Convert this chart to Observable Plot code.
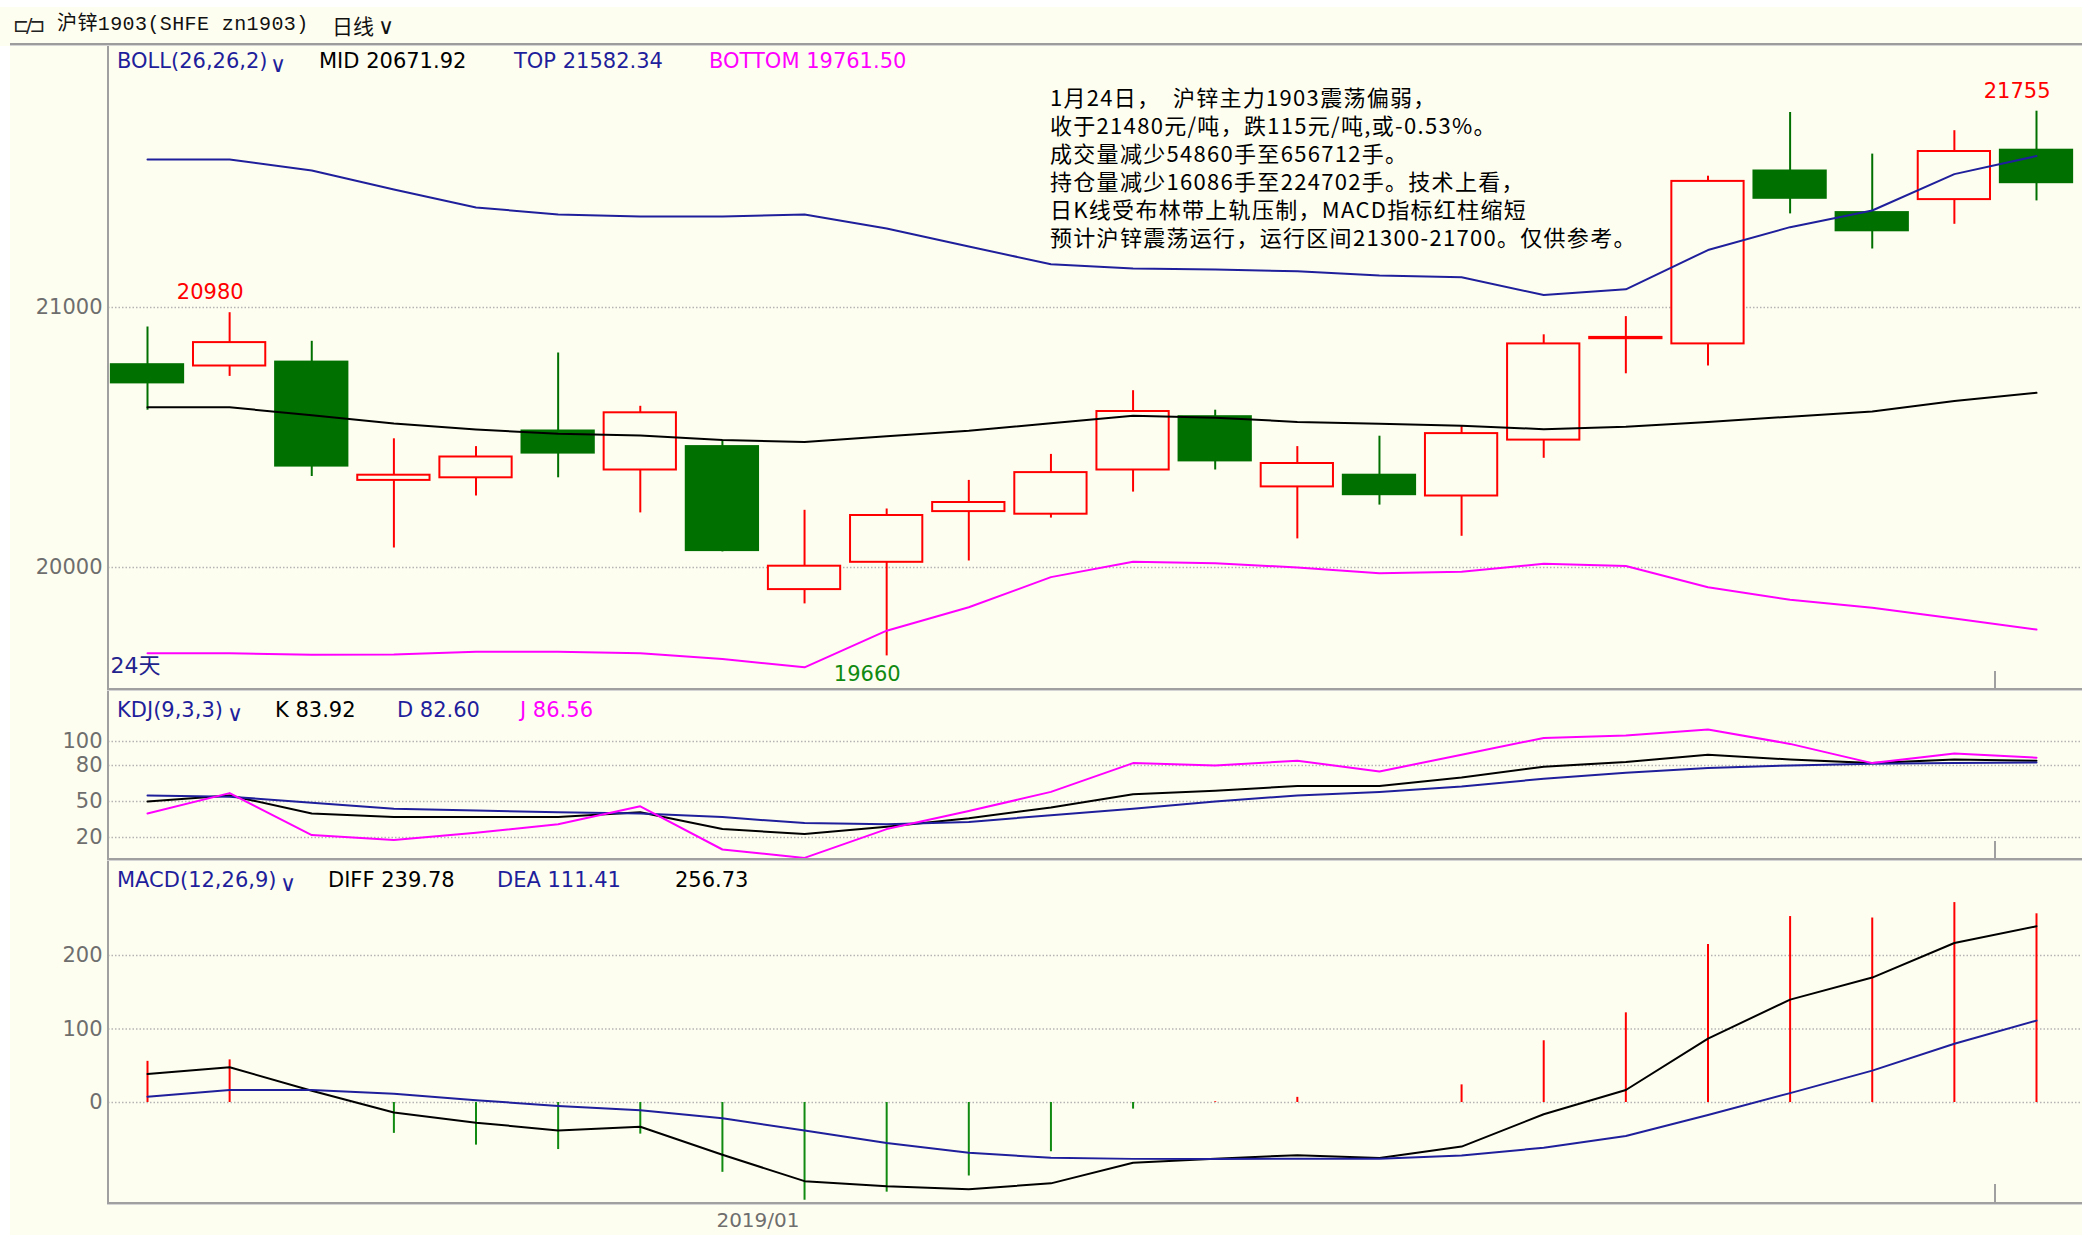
<!DOCTYPE html>
<html>
<head>
<meta charset="utf-8">
<script src="https://cdn.jsdelivr.net/npm/d3@7"></script>
<script src="https://cdn.jsdelivr.net/npm/@observablehq/plot@0.6"></script>
<style>
  body { margin: 0; background: #ffffff; }
  #wrap { position: relative; width: 2082px; height: 1235px; background: #fefef0; overflow: hidden; }
  .abs { position: absolute; white-space: pre; line-height: 1; }
  .hl { position: absolute; background: #a4a4a4; }
  .panel { position: absolute; left: 0; }
</style>
</head>
<body>
<div id="wrap"></div>
<script>
// ---------------- DATA ----------------
const dates = ["2018-12-20","2018-12-21","2018-12-24","2018-12-25","2018-12-26","2018-12-27","2018-12-28",
  "2019-01-02","2019-01-03","2019-01-04","2019-01-07","2019-01-08","2019-01-09","2019-01-10","2019-01-11",
  "2019-01-14","2019-01-15","2019-01-16","2019-01-17","2019-01-18","2019-01-21","2019-01-22","2019-01-23","2019-01-24"];
const openP  = [20780,20775,20790,20335,20345,20525,20375,20465,19915,20020,20215,20205,20375,20580,20310,20355,20275,20490,20880,20860,21525,21365,21415,21605];
const highP  = [20925,20980,20870,20495,20465,20825,20620,20485,20220,20225,20335,20435,20680,20605,20465,20505,20545,20895,20965,21505,21750,21590,21680,21755];
const lowP   = [20605,20735,20350,20075,20275,20345,20210,20060,19860,19660,20025,20190,20290,20375,20110,20240,20120,20420,20745,20775,21360,21225,21320,21410];
const closeP = [20710,20865,20390,20355,20425,20440,20595,20065,20005,20200,20250,20365,20600,20410,20400,20280,20515,20860,20885,21485,21420,21295,21600,21480];

const bollTop = [21569,21569,21527,21454,21385,21358,21350,21350,21358,21304,21235,21166,21150,21146,21139,21123,21116,21048,21070,21221,21309,21373,21513,21582.34];
const bollMid = [20616,20616,20586,20554,20531,20514,20508,20490,20483,20505,20526,20555,20584,20576,20560,20553,20545,20532,20541,20560,20580,20600,20640,20671.92];
const bollBot = [19670,19670,19664,19665,19676,19676,19670,19648,19616,19757,19847,19963,20022,20016,20000,19978,19984,20014,20006,19924,19876,19845,19804,19761.50];

const kdjK = [50,55,40,37,37,37,41,27,23,29,36,45,56,59,63,63,70,79,83,89,85,82,85,83.92];
const kdjD = [55,54,49,44,42.5,41,40,37,32,31,33,38.5,44,50,55,58,62.5,69,74,78,80,81.5,82,82.60];
const kdjJ = [40,57,22,18,24,31,46,10,3,27,42,58,82,80,84,75,89,103,105,110,98,82,90,86.56];

const macdDiff = [38.8,48,16,-13.7,-27.4,-38,-33,-71,-107,-114,-118,-110,-82,-76.5,-71.7,-75.5,-60,-16,17,87,140,170,217,239.78];
const macdDea  = [7.8,17,17,12,3,-4.6,-10.5,-21.5,-38,-55,-68.5,-75.3,-76.7,-76.7,-76.5,-76.5,-72,-61.6,-45.7,-17,12.8,43.4,80,111.41];
const macdHist = [56,58,0,-42,-58,-64,-43,-95,-133,-122,-100,-67,-9,1,7,0,24,84,122,215,253,251,272,256.73];

const mainTicks = [20000, 21000];
const kdjTicks = [20, 50, 80, 100];
const macdTicks = [0, 100, 200];

// labelled extremes: candle index and which price
const extremeLabels = [{i: 1, kind: "high"}, {i: 9, kind: "low"}, {i: 23, kind: "high"}];
const cursorIdx = [22.5];

const titleText = "沪锌1903(SHFE zn1903)";
const periodText = "日线";
const noteLines = [
  "1月24日，  沪锌主力1903震荡偏弱，",
  "收于21480元/吨，跌115元/吨,或-0.53%。",
  "成交量减少54860手至656712手。",
  "持仓量减少16086手至224702手。技术上看，",
  "日K线受布林带上轨压制，MACD指标红柱缩短",
  "预计沪锌震荡运行，运行区间21300-21700。仅供参考。"
];

// ---------------- STYLE ----------------
const BG = "#fefef0", RED = "#ff0000", GREEN = "#007000", HGREEN = "#108a10", BLUE = "#1f1f9c", MAG = "#ff00ff", BLACK = "#000000", GRAY = "#6e6e6e";
const FONT = "DejaVu Sans, Noto Sans CJK SC, sans-serif";

const N = dates.length;
const candles = dates.map((date, i) => ({
  i, date, open: openP[i], high: highP[i], low: lowP[i], close: closeP[i],
  top: bollTop[i], mid: bollMid[i], bot: bollBot[i],
  k: kdjK[i], d: kdjD[i], j: kdjJ[i],
  diff: macdDiff[i], dea: macdDea[i], hist: macdHist[i]
}));
const isUp = d => d.close >= d.open;
const wrap = document.getElementById("wrap");

const X = {domain: [0, N - 1], range: [147, 2036]};
const gridOpts = {stroke: "#b4b4b4", strokeOpacity: 1, strokeWidth: 1.5, strokeDasharray: "1.5,2"};
const axisOpts = {tickSize: 0, tickPadding: 6, fontSize: 21, fill: GRAY, label: null, tickFormat: d => String(d), fontFamily: FONT};
const plotStyle = {background: "transparent", overflow: "visible", fontFamily: FONT};

function placePanel(svg, top) {
  const div = document.createElement("div");
  div.className = "panel";
  div.style.top = top + "px";
  div.appendChild(svg);
  wrap.appendChild(div);
}
function addText(str, left, cy, size, color, family, extra) {
  const s = document.createElement("div");
  s.className = "abs";
  s.textContent = str;
  s.style.left = left + "px";
  s.style.top = (cy - size * 0.5) + "px";
  s.style.fontSize = size + "px";
  s.style.color = color;
  s.style.fontFamily = family || FONT;
  if (extra) Object.assign(s.style, extra);
  wrap.appendChild(s);
  return s;
}
function hline(left, top, width, height, color) {
  const d = document.createElement("div");
  d.className = "hl";
  Object.assign(d.style, {left: left + "px", top: top + "px", width: width + "px", height: height + "px"});
  if (color) d.style.background = color;
  wrap.appendChild(d);
}

// white outer strips
hline(0, 0, 2082, 7, "#ffffff");
hline(0, 46, 10, 1189, "#ffffff");

// ---------------- MAIN PANEL ----------------
const main = Plot.plot({
  width: 2082, height: 646, marginLeft: 108, marginRight: 0, marginTop: 0, marginBottom: 0,
  style: plotStyle,
  x: {...X, axis: null},
  y: {domain: [20000, 21000], range: [523, 263]},
  color: {type: "identity"},
  marks: [
    Plot.gridY(mainTicks, gridOpts),
    Plot.axisY(mainTicks, axisOpts),
    Plot.ruleX(candles, {x: "i", y1: d => Math.max(d.open, d.close), y2: "high", stroke: d => isUp(d) ? RED : GREEN, strokeWidth: 2}),
    Plot.ruleX(candles, {x: "i", y1: "low", y2: d => Math.min(d.open, d.close), stroke: d => isUp(d) ? RED : GREEN, strokeWidth: 2}),
    Plot.rect(candles, {x1: d => d.i - 0.44, x2: d => d.i + 0.44, y1: "open", y2: "close",
      fill: d => isUp(d) ? BG : GREEN, stroke: d => isUp(d) ? RED : GREEN, strokeWidth: 2}),
    Plot.line(candles, {x: "i", y: "top", stroke: BLUE, strokeWidth: 2}),
    Plot.line(candles, {x: "i", y: "mid", stroke: BLACK, strokeWidth: 2}),
    Plot.line(candles, {x: "i", y: "bot", stroke: MAG, strokeWidth: 2}),
    Plot.text(extremeLabels.filter(e => e.kind === "high"), {
      x: "i", y: e => candles[e.i].high, text: e => String(candles[e.i].high),
      textAnchor: "end", dx: 14, dy: -20, fill: RED, fontSize: 21, fontFamily: FONT}),
    Plot.text(extremeLabels.filter(e => e.kind === "low"), {
      x: "i", y: e => candles[e.i].low, text: e => String(candles[e.i].low),
      textAnchor: "end", dx: 14, dy: 18, fill: HGREEN, fontSize: 21, fontFamily: FONT}),
    Plot.text([`${N}天`], {frameAnchor: "bottom-left", textAnchor: "start", dx: 2, dy: -18,
      fill: "#23238e", fontSize: 22, fontFamily: FONT})
  ]
});
placePanel(main, 44);

// ---------------- KDJ PANEL ----------------
const kdj = Plot.plot({
  width: 2082, height: 170, marginLeft: 108, marginRight: 0, marginTop: 0, marginBottom: 0,
  style: plotStyle,
  x: {...X, axis: null},
  y: {domain: [20, 100], range: [147, 51]},
  marks: [
    Plot.gridY(kdjTicks, gridOpts),
    Plot.axisY(kdjTicks, axisOpts),
    Plot.line(candles, {x: "i", y: "k", stroke: BLACK, strokeWidth: 2}),
    Plot.line(candles, {x: "i", y: "d", stroke: BLUE, strokeWidth: 2}),
    Plot.line(candles, {x: "i", y: "j", stroke: MAG, strokeWidth: 2})
  ]
});
placePanel(kdj, 690);

// ---------------- MACD PANEL ----------------
const firstJan = dates.findIndex(d => d.startsWith("2019-01"));
const macd = Plot.plot({
  width: 2082, height: 375, marginLeft: 108, marginRight: 0, marginTop: 0, marginBottom: 32,
  style: plotStyle,
  x: X,
  y: {domain: [0, 200], range: [242, 95]},
  color: {type: "identity"},
  marks: [
    Plot.gridY(macdTicks, gridOpts),
    Plot.axisY(macdTicks, axisOpts),
    Plot.axisX([firstJan], {tickSize: 0, tickPadding: 9, fontSize: 20, fill: GRAY, label: null,
      textAnchor: "start", dx: -6, fontFamily: FONT,
      tickFormat: i => dates[i].slice(0, 7).replace("-", "/")}),
    Plot.ruleX(candles, {x: "i", y1: 0, y2: "hist", stroke: d => d.hist >= 0 ? RED : HGREEN, strokeWidth: 2}),
    Plot.line(candles, {x: "i", y: "diff", stroke: BLACK, strokeWidth: 2}),
    Plot.line(candles, {x: "i", y: "dea", stroke: BLUE, strokeWidth: 2})
  ]
});
placePanel(macd, 860);

// ---------------- FRAME LINES ----------------
hline(10, 43, 2072, 2, "#9c9c9c");
hline(10, 45, 2072, 1, "#d4d4d4");
hline(107, 46, 2, 1158, "#a0a0a0");
hline(107, 688, 1975, 2, "#a0a0a0");
hline(107, 690, 1975, 1, "#d4d4d4");
hline(107, 858, 1975, 2, "#a0a0a0");
hline(107, 860, 1975, 1, "#d4d4d4");
hline(107, 1202, 1975, 2, "#a0a0a0");
hline(107, 1204, 1975, 1, "#d4d4d4");
const xs = main.scale("x");
for (const c of cursorIdx) {
  const px = Math.round(xs.apply(c)) - 1;
  hline(px, 671, 2, 18, "#a0a0a0");
  hline(px, 841, 2, 18, "#a0a0a0");
  hline(px, 1184, 2, 18, "#a0a0a0");
}

// ---------------- TEXT ----------------
// title bar
addText("⊏/⊐", 13, 25, 19, "#222", "DejaVu Sans", {letterSpacing: "-3px"});
addText(titleText, 57, 25, 20, "#111", "Liberation Mono, Noto Sans CJK SC, monospace", {letterSpacing: "0.4px"});
addText(periodText, 332, 25, 21, "#111", "Noto Sans CJK SC");
addText("∨", 378, 27, 22, "#111", "DejaVu Sans");

const last = candles[N - 1];
// BOLL header
addText("BOLL(26,26,2)", 117, 61, 21, BLUE);
addText("∨", 270, 65, 22, BLUE);
addText("MID " + last.mid.toFixed(2), 319, 61, 21, BLACK);
addText("TOP " + last.top.toFixed(2), 514, 61, 21, BLUE);
addText("BOTTOM " + last.bot.toFixed(2), 709, 61, 21, MAG);
// KDJ header
addText("KDJ(9,3,3)", 117, 710, 21, BLUE);
addText("∨", 227, 714, 22, BLUE);
addText("K " + last.k.toFixed(2), 275, 710, 21, BLACK);
addText("D " + last.d.toFixed(2), 397, 710, 21, BLUE);
addText("J " + last.j.toFixed(2), 520, 710, 21, MAG);
// MACD header
addText("MACD(12,26,9)", 117, 880, 21, BLUE);
addText("∨", 280, 884, 22, BLUE);
addText("DIFF " + last.diff.toFixed(2), 328, 880, 21, BLACK);
addText("DEA " + last.dea.toFixed(2), 497, 880, 21, BLUE);
addText(last.hist.toFixed(2), 675, 880, 21, BLACK);

// note block
const note = document.createElement("div");
note.className = "abs";
note.textContent = noteLines.join("\n");
Object.assign(note.style, {left: "1050px", top: "82px", fontSize: "22px", lineHeight: "28px", letterSpacing: "1.3px",
  fontFamily: "Noto Sans CJK SC, sans-serif", color: "#000"});
wrap.appendChild(note);
</script>
</body>
</html>
